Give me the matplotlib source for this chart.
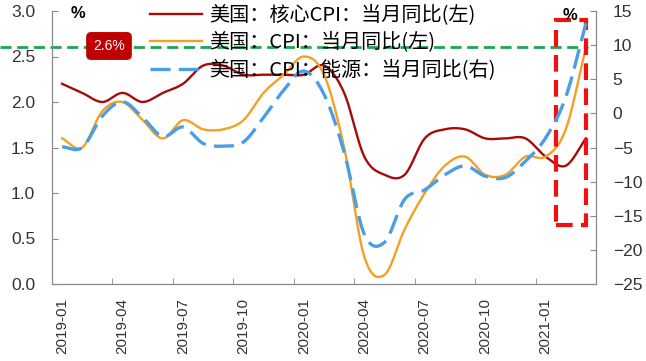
import numpy as np
import matplotlib.pyplot as plt
from matplotlib.patches import Rectangle

plt.rcParams['font.family'] = ['Liberation Sans', 'Noto Sans CJK SC', 'DejaVu Sans']

# Data (monthly, 2019-01 .. 2021-03)
months = ['2019-01', '2019-02', '2019-03', '2019-04', '2019-05', '2019-06', '2019-07',
          '2019-08', '2019-09', '2019-10', '2019-11', '2019-12', '2020-01', '2020-02',
          '2020-03', '2020-04', '2020-05', '2020-06', '2020-07', '2020-08', '2020-09',
          '2020-10', '2020-11', '2020-12', '2021-01', '2021-02', '2021-03']
core_cpi = [2.2, 2.1, 2.0, 2.1, 2.0, 2.1, 2.2, 2.4, 2.4, 2.3, 2.3, 2.3, 2.3, 2.4,
            2.1, 1.4, 1.2, 1.2, 1.6, 1.7, 1.7, 1.6, 1.6, 1.6, 1.4, 1.3, 1.6]
cpi = [1.6, 1.5, 1.9, 2.0, 1.8, 1.6, 1.8, 1.7, 1.7, 1.8, 2.1, 2.3, 2.5, 2.3,
       1.5, 0.3, 0.1, 0.6, 1.0, 1.3, 1.4, 1.2, 1.2, 1.4, 1.4, 1.7, 2.6]
energy_cpi = [-4.9, -5.0, -0.4, 1.7, -0.6, -3.4, -2.0, -4.4, -4.8, -4.2, -0.6, 3.4, 6.2, 2.8,
              -5.7, -17.7, -18.9, -12.6, -11.2, -9.0, -7.7, -9.2, -9.4, -7.0, -3.6, 2.4, 13.2]
labels = ['美国：核心CPI：当月同比(左)', '美国：CPI：当月同比(左)', '美国：CPI：能源：当月同比(右)']
latest_cpi = 2.6


def smooth(x, y, n=20):
    # Catmull-Rom curve through the points (like a smoothed Excel line)
    x = np.asarray(x, float)
    y = np.asarray(y, float)
    px = np.concatenate([[2 * x[0] - x[1]], x, [2 * x[-1] - x[-2]]])
    py = np.concatenate([[2 * y[0] - y[1]], y, [2 * y[-1] - y[-2]]])
    t = np.linspace(0, 1, n, endpoint=False)
    xs, ys = [], []
    for i in range(1, len(px) - 2):
        for arr, out in ((px, xs), (py, ys)):
            p0, p1, p2, p3 = arr[i - 1:i + 3]
            out.append(0.5 * (2 * p1 + (-p0 + p2) * t + (2 * p0 - 5 * p1 + 4 * p2 - p3) * t ** 2
                              + (-p0 + 3 * p1 - 3 * p2 + p3) * t ** 3))
    xs.append([x[-1]])
    ys.append([y[-1]])
    return np.concatenate(xs), np.concatenate(ys)


x = np.arange(len(months))
W, H = 646, 361
fig = plt.figure(figsize=(W / 100, H / 100), dpi=100)
ax = fig.add_axes([52 / W, 1 - 284 / H, (596 - 52) / W, (284 - 11) / H])
ax2 = ax.twinx()

l1, = ax.plot(*smooth(x, core_cpi), color='#A80A0A', lw=1.7)
l2, = ax.plot(*smooth(x, cpi), color='#F5A023', lw=1.7)
l3, = ax2.plot(*smooth(x, energy_cpi), color='#4A9EE6', lw=2.4, dashes=(6, 2.5))

ax.set_xlim(-0.5, len(months) - 0.5)
ax.set_ylim(0, 3.0)
ax.set_yticks(np.arange(0, 3.01, 0.5))
ax.set_yticklabels([f'{v:.1f}' for v in np.arange(0, 3.01, 0.5)])
ax2.set_ylim(-25, 15)
ax2.set_yticks(range(-25, 16, 5))

# category-style x axis: labels on the month, ticks on boundaries
ax.set_xticks(x[::3])
ax.set_xticklabels(months[::3], rotation=90)
ax.set_xticks(np.arange(2.5, len(months) - 1, 3), minor=True)
ax.tick_params(axis='x', which='major', length=0, pad=10, labelsize=11, labelcolor='#333333')
ax.tick_params(axis='x', which='minor', direction='in', length=4, color='#888888')
ax.tick_params(axis='y', direction='in', length=4, pad=12, labelsize=12.5,
               labelcolor='#333333', color='#888888')
ax2.tick_params(axis='y', direction='in', length=4, pad=12, labelsize=12.5,
                labelcolor='#333333', color='#888888')

for a in (ax, ax2):
    a.spines['top'].set_visible(False)
    for s in ('left', 'right', 'bottom'):
        a.spines[s].set_color('#888888')

# 2.6% reference line and highlight box
ax.axhline(latest_cpi, xmin=-0.096, xmax=0.985, clip_on=False, color='#1DA650',
           lw=2, dashes=(4, 2))
ax.add_patch(Rectangle((24.5, 0.65), 1.5, 2.25, fill=False, ec='#F01010', lw=3,
                       ls=(0, (4, 2)), clip_on=False, zorder=5))
fig.text(109 / W, 1 - 46 / H, f'{latest_cpi}%', color='white', fontsize=10,
         ha='center', va='center',
         bbox=dict(boxstyle='round,pad=0.45,rounding_size=0.3', fc='#BE0000', ec='#BE0000'))

fig.text(78 / W, 1 - 14 / H, '%', fontsize=12, fontweight='bold', ha='center', va='center')
fig.text(570 / W, 1 - 15 / H, '%', fontsize=12, fontweight='bold', ha='center', va='center')

leg = ax2.legend([l1, l2, l3], labels, loc='upper left',
                 bbox_to_anchor=(150 / W, 1 - 5 / H), bbox_transform=fig.transFigure,
                 frameon=False, prop={'family': ['Noto Sans CJK SC'], 'size': 14.5},
                 handlelength=2.6, handletextpad=0.35, labelspacing=0.32,
                 borderpad=0, borderaxespad=0)

fig.savefig('out.png', dpi=100)
